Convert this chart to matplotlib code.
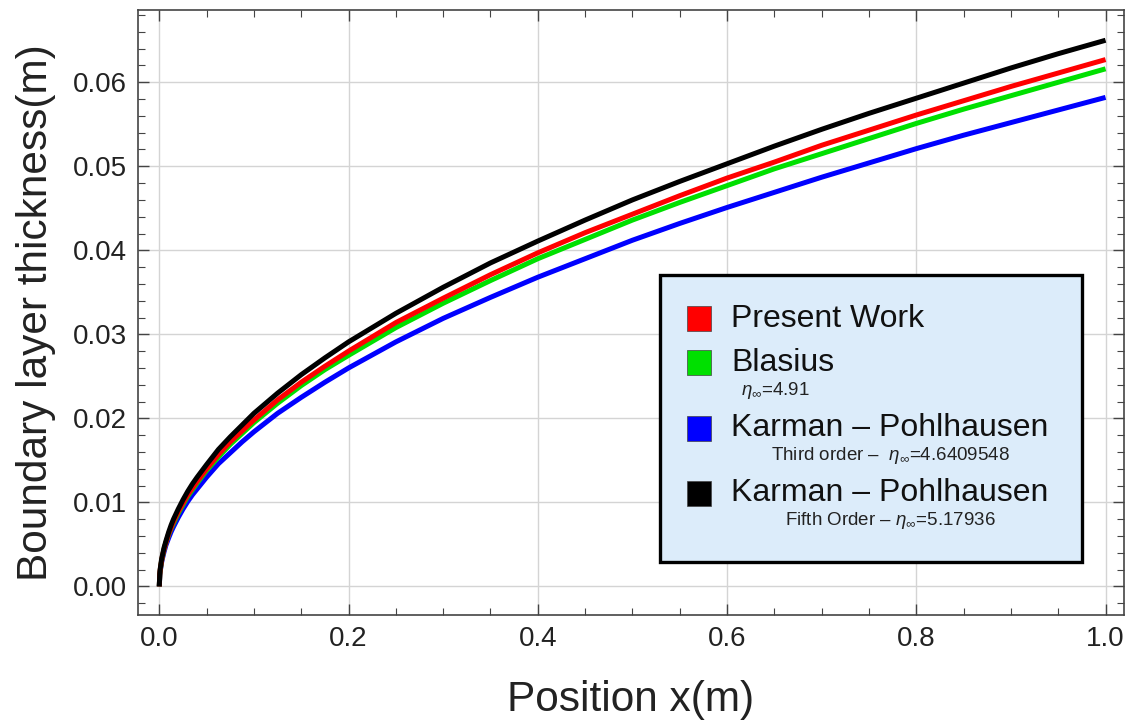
import matplotlib
matplotlib.use("Agg")
import matplotlib.pyplot as plt
from matplotlib.patches import Rectangle
from matplotlib.ticker import MultipleLocator

plt.rcParams['font.family'] = ['Liberation Sans', 'DejaVu Sans']
plt.rcParams['mathtext.fontset'] = 'custom'
plt.rcParams['mathtext.it'] = 'Liberation Sans:italic'
plt.rcParams['mathtext.rm'] = 'Liberation Sans'

# ---- data ----
x = [0, 0.0005, 0.001, 0.0025, 0.0035, 0.005, 0.007, 0.01, 0.0125, 0.015, 0.02, 0.025,
     0.03, 0.035, 0.04, 0.05, 0.0625, 0.075, 0.0875, 0.1, 0.125, 0.15, 0.175, 0.2,
     0.25, 0.3, 0.35, 0.4, 0.45, 0.5, 0.55, 0.6, 0.65, 0.7, 0.75, 0.8, 0.85, 0.9,
     0.95, 1.0]
present_work = [0, 0.0014, 0.0020, 0.0031, 0.0037, 0.0044, 0.0052, 0.0063, 0.0070, 0.0077,
                0.0089, 0.0099, 0.0109, 0.0117, 0.0125, 0.0140, 0.0157, 0.0172, 0.0185,
                0.0198, 0.0222, 0.0243, 0.0262, 0.0280, 0.0314, 0.0343, 0.0371, 0.0397,
                0.0421, 0.0443, 0.0465, 0.0486, 0.0505, 0.0525, 0.0543, 0.0561, 0.0578,
                0.0595, 0.0611, 0.0627]
blasius = [0, 0.0014, 0.0019, 0.0031, 0.0036, 0.0044, 0.0052, 0.0062, 0.0069, 0.0075,
           0.0087, 0.0097, 0.0107, 0.0115, 0.0123, 0.0138, 0.0154, 0.0169, 0.0182,
           0.0195, 0.0218, 0.0239, 0.0258, 0.0275, 0.0308, 0.0337, 0.0364, 0.0390,
           0.0413, 0.0436, 0.0457, 0.0477, 0.0497, 0.0515, 0.0533, 0.0551, 0.0568,
           0.0584, 0.0600, 0.0616]
kp_third = [0, 0.0013, 0.0018, 0.0029, 0.0034, 0.0041, 0.0049, 0.0058, 0.0065, 0.0071,
            0.0082, 0.0092, 0.0101, 0.0109, 0.0116, 0.0130, 0.0146, 0.0159, 0.0172,
            0.0184, 0.0206, 0.0225, 0.0243, 0.0260, 0.0291, 0.0319, 0.0344, 0.0368,
            0.0390, 0.0412, 0.0432, 0.0451, 0.0469, 0.0487, 0.0504, 0.0521, 0.0537,
            0.0552, 0.0567, 0.0582]
kp_fifth = [0, 0.0015, 0.0021, 0.0033, 0.0038, 0.0046, 0.0054, 0.0065, 0.0073, 0.0080,
            0.0092, 0.0103, 0.0113, 0.0122, 0.0130, 0.0145, 0.0163, 0.0178, 0.0192,
            0.0206, 0.0230, 0.0252, 0.0272, 0.0291, 0.0325, 0.0356, 0.0385, 0.0411,
            0.0436, 0.0460, 0.0482, 0.0503, 0.0524, 0.0544, 0.0563, 0.0581, 0.0599,
            0.0617, 0.0634, 0.0650]

series_names = ['Present Work', 'Blasius', 'Karman \u2013 Pohlhausen', 'Karman \u2013 Pohlhausen']
series_subs = [None, '$\\eta_\\infty$=4.91', 'Third order \u2013  $\\eta_\\infty$=4.6409548',
               'Fifth Order \u2013 $\\eta_\\infty$=5.17936']
series_colors = ['#ff0000', '#00e000', '#0000ff', '#000000']

W, H = 1129, 724
fig = plt.figure(figsize=(W / 100, H / 100), dpi=100)
ax = fig.add_axes([138 / W, 1 - 615 / H, (1124 - 138) / W, (615 - 10) / H])

for ys, c in [(kp_third, series_colors[2]), (blasius, series_colors[1]),
              (present_work, series_colors[0]), (kp_fifth, series_colors[3])]:
    ax.plot(x, ys, color=c, lw=3.6, solid_capstyle='butt', solid_joinstyle='round')

ax.set_xlim(-0.0225, 1.0195)
ax.set_ylim(-0.0034, 0.0686)
ax.xaxis.set_major_locator(MultipleLocator(0.2))
ax.xaxis.set_minor_locator(MultipleLocator(0.05))
ax.yaxis.set_major_locator(MultipleLocator(0.01))
ax.yaxis.set_minor_locator(MultipleLocator(0.002))
ax.xaxis.set_major_formatter(plt.FuncFormatter(lambda v, p: f'{v:.1f}'))
ax.yaxis.set_major_formatter(plt.FuncFormatter(lambda v, p: f'{v:.2f}'))
ax.tick_params(which='both', direction='in', top=True, right=True,
               color='#444444', labelsize=20, labelcolor='#222222')
ax.tick_params(which='major', length=8, width=1.0, pad=8)
ax.tick_params(which='minor', length=5, width=0.8)
ax.grid(True, which='major', color='#d4d4d4', lw=1.0)
for s in ax.spines.values():
    s.set_color('#444444')
    s.set_linewidth(1.2)

ax.set_xlabel('Position x(m)', fontsize=30.5, color='#222222', labelpad=20)
ax.set_ylabel('Boundary layer thickness(m)', fontsize=30.5, color='#222222', labelpad=12)


def fx(px):
    return px / W


def fy(py):
    return 1 - py / H


# ---- legend box ----
fig.patches.append(Rectangle((fx(660), fy(562)), fx(1082) - fx(660), fy(275) - fy(562),
                             transform=fig.transFigure, facecolor='#dcecfa',
                             edgecolor='black', lw=2.4, zorder=5))
sq_tops = [306, 350, 416, 481]
name_base = [327, 371, 436, 501]
sub_pos = [None, (741, 395, 'left'), (890, 460, 'center'), (890, 525, 'center')]
for i in range(4):
    fig.patches.append(Rectangle((fx(687), fy(sq_tops[i] + 25)), fx(711) - fx(687),
                                 fy(sq_tops[i]) - fy(sq_tops[i] + 25),
                                 transform=fig.transFigure, facecolor=series_colors[i],
                                 edgecolor='#444444', lw=0.5, zorder=6))
    fig.text(fx(731), fy(name_base[i]), series_names[i], fontsize=23, color='#111111',
             ha='left', va='baseline', zorder=7)
    if series_subs[i]:
        sx, sy, ha = sub_pos[i]
        fig.text(fx(sx), fy(sy), series_subs[i], fontsize=13.5, color='#222222',
                 ha=ha, va='baseline', zorder=7)

fig.savefig('out.png', dpi=100)
